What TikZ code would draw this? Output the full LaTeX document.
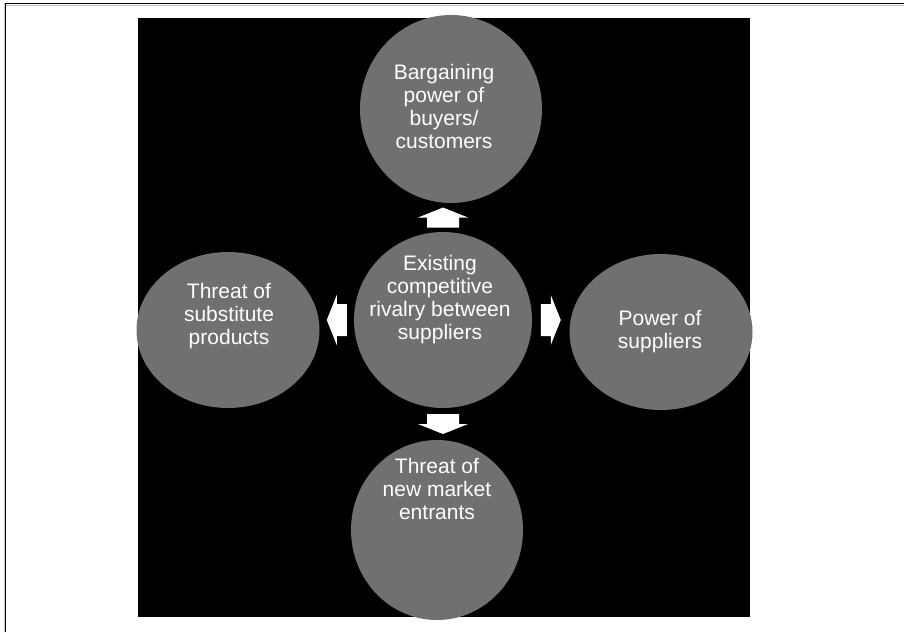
\documentclass[tikz,border=0pt]{standalone}
\usepackage{fontspec}
\setmainfont{Liberation Sans}
\usetikzlibrary{shapes.geometric,calc}
\definecolor{blobgray}{RGB}{112,112,112}
\begin{document}
\begin{tikzpicture}[x=1pt, y=-1pt,
  blob/.style={ellipse, fill=blobgray, inner sep=0pt},
  blobtext/.style={text=white, align=center, inner sep=0pt, font=\fontsize{21}{23}\selectfont}]
\useasboundingbox (0,0) rectangle (904,632);
\draw[gray!45, line width=1pt] (4.4,632) -- (4.4,3);
\draw[gray!45, line width=1pt] (6,5) -- (904,5);
\draw[line width=1.2pt] (5.6,632) -- (5.6,3.8) -- (904,3.8);
\fill[black] (138,18) rectangle (750,617);
\node[blob, minimum width=178pt, minimum height=176pt] (rivalry) at (443,320) {};
\node[blob, minimum width=182pt, minimum height=188pt] (buyers) at (451,109) {};
\node[blob, minimum width=183pt, minimum height=156pt] (substitutes) at (228,330) {};
\node[blob, minimum width=183pt, minimum height=156pt] (suppliers) at (661,332) {};
\node[blob, minimum width=172pt, minimum height=180pt] (entrants) at (437,530) {};
\node[blobtext] (rivalryText) at (440,300) {Existing\\competitive\\rivalry between\\suppliers};
\node[blobtext] (buyersText) at (444,106) {Bargaining\\power of\\buyers/\\customers};
\node[blobtext] (substitutesText) at (229,316) {Threat of\\substitute\\products};
\node[blobtext] (suppliersText) at (660,332) {Power of\\suppliers};
\node[blobtext] (entrantsText) at (437,489) {Threat of\\new market\\entrants};
\coordinate (upArrow) at ($(rivalry.north)!0.5!(rivalry.north |- buyers.south)$);
\coordinate (downArrow) at ($(rivalry.south)!0.5!(rivalry.south |- entrants.north)$);
\coordinate (leftArrow) at ($(rivalry.west)!0.5!(substitutes.east |- rivalry.west)$);
\coordinate (rightArrow) at ($(rivalry.east)!0.5!(suppliers.west |- rivalry.east)$);
\foreach \pos/\ang in {upArrow/90, downArrow/-90, leftArrow/180, rightArrow/0}
  \fill[white, shift={(\pos)}, rotate=\ang] (-10,16) -- (0,16) -- (0,25) -- (10,0) -- (0,-25) -- (0,-16) -- (-10,-16) -- cycle;
\end{tikzpicture}
\end{document}
